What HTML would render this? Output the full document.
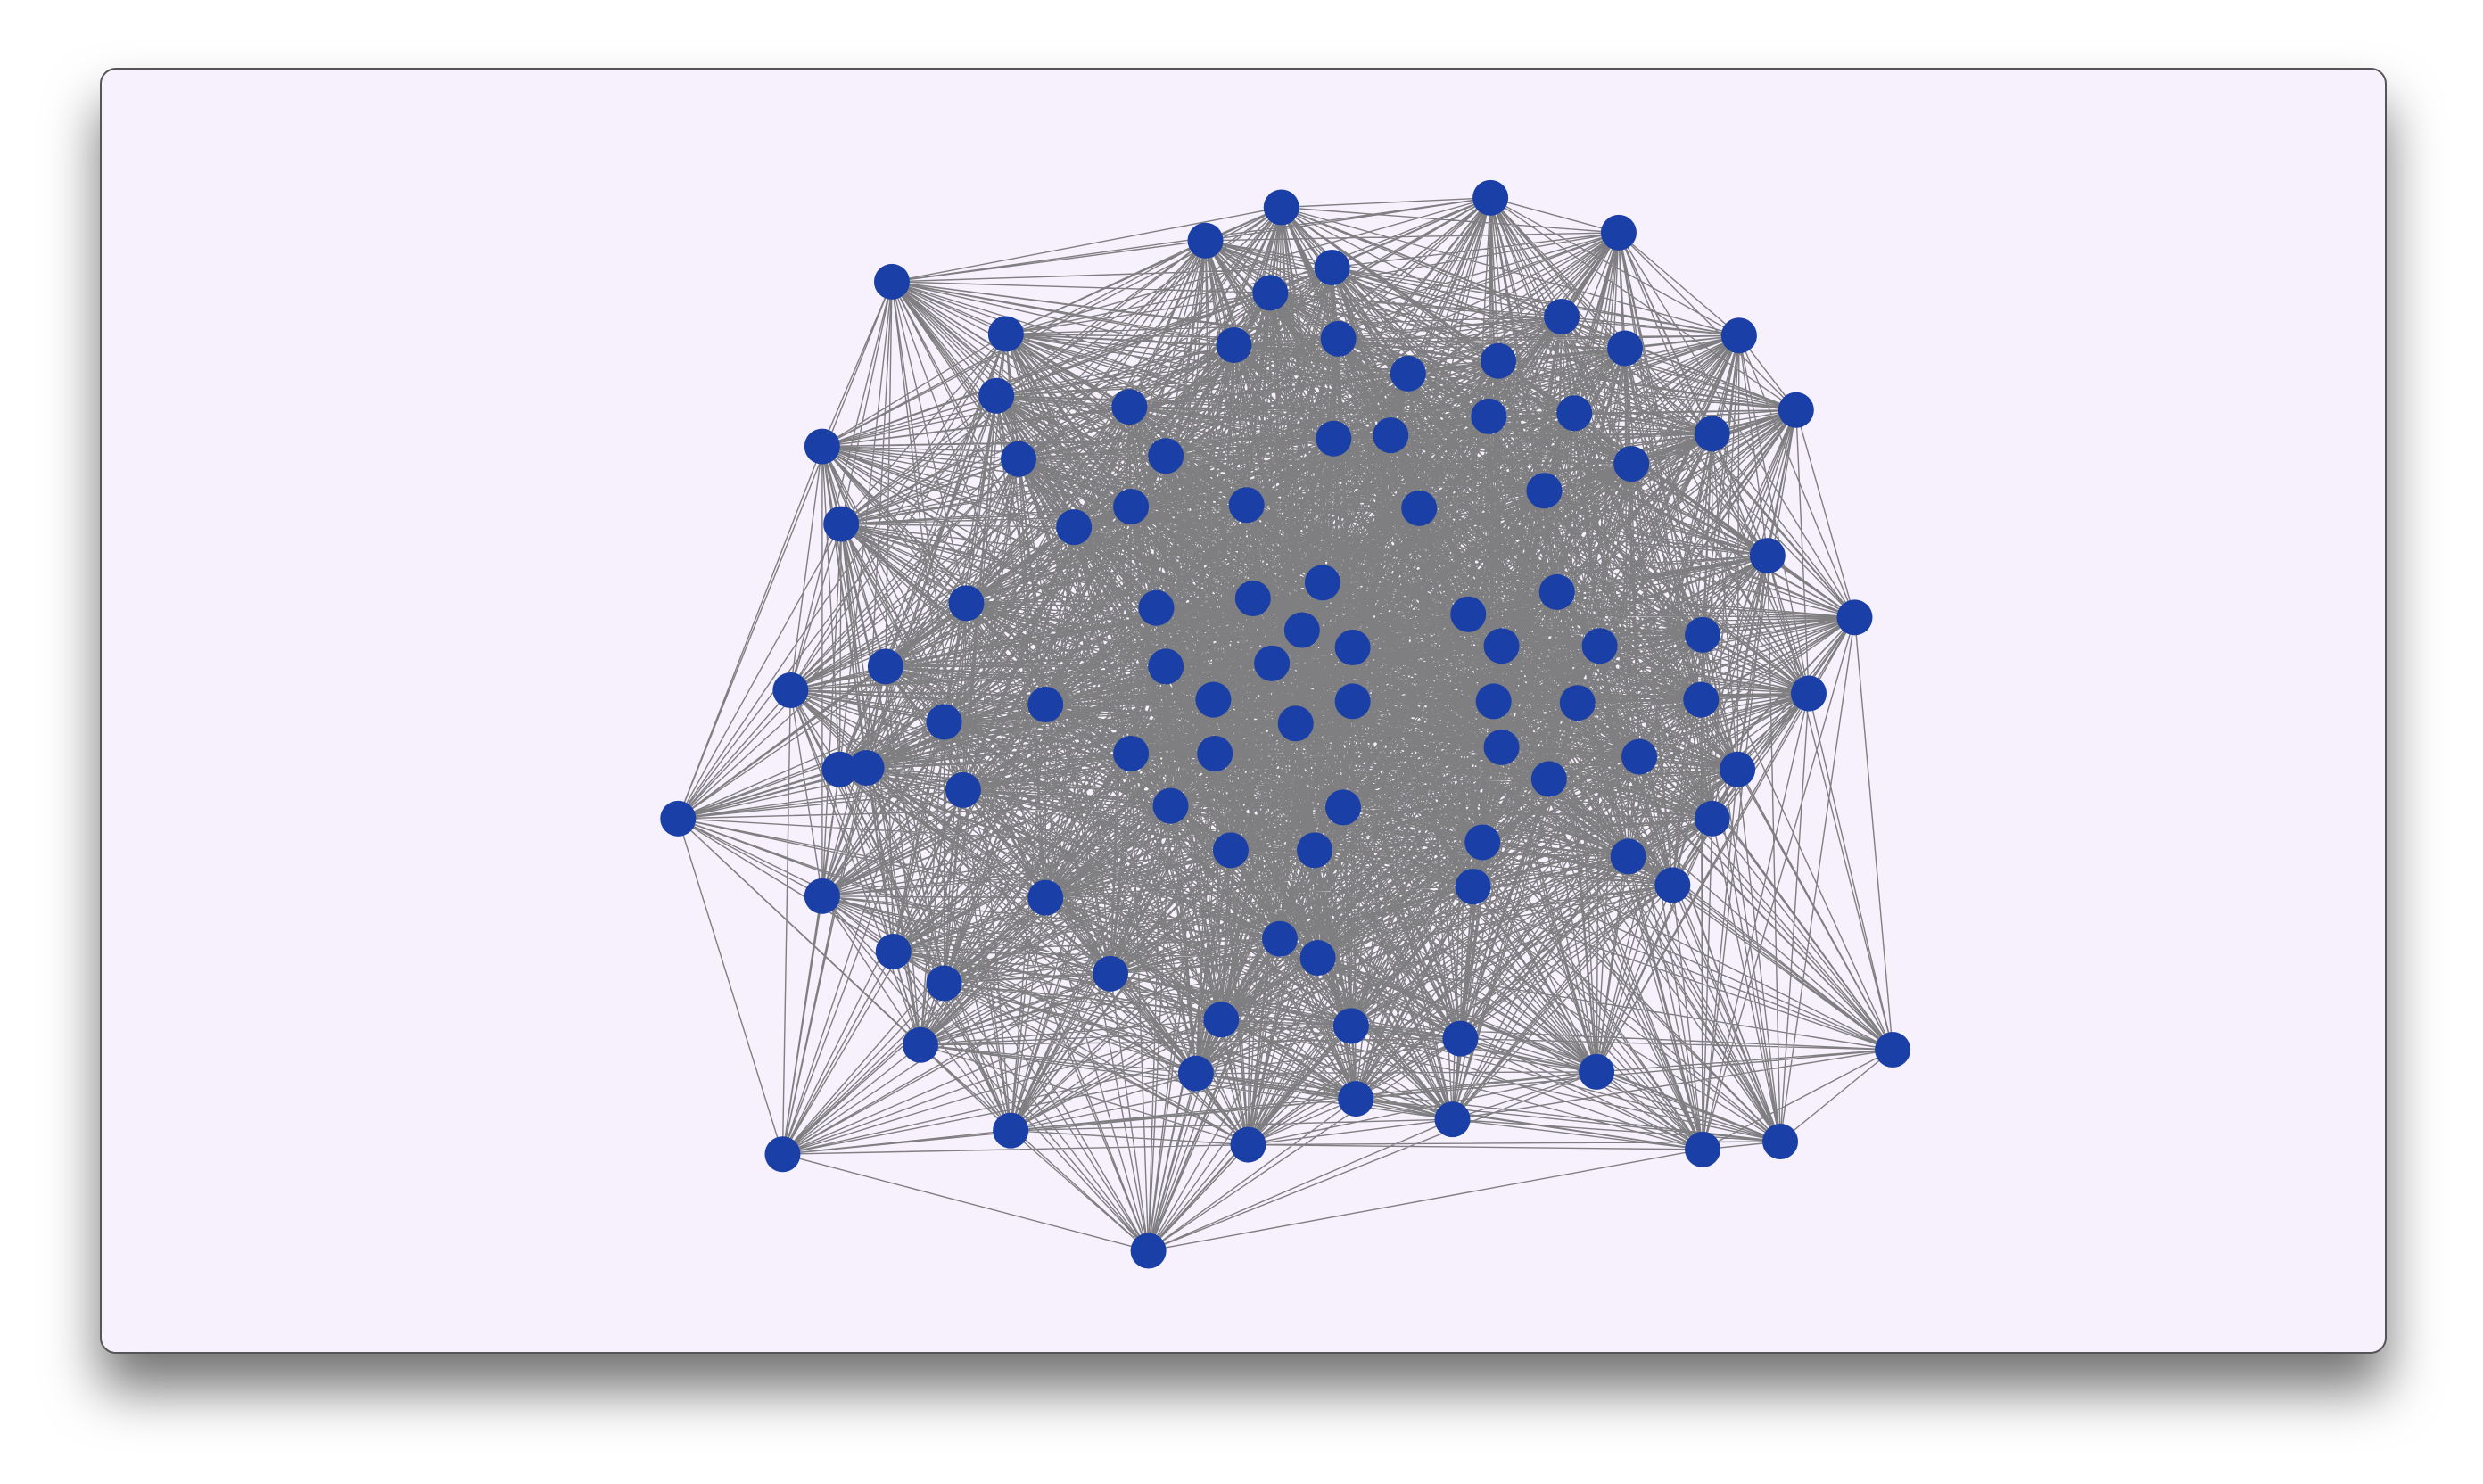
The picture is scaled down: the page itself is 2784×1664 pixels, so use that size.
<!DOCTYPE html>
<html><head><meta charset="utf-8">
<style>
html,body{margin:0;padding:0;background:#fff;width:2784px;height:1664px;overflow:hidden;font-family:"Liberation Sans",sans-serif;}
#card{position:absolute;left:112px;top:76px;width:2560px;height:1438px;background:#f7f0fd;border:2px solid #555;border-radius:18px;box-shadow:0 40px 60px rgba(0,0,0,0.55);overflow:hidden;}
svg{position:absolute;left:0;top:0;}
</style></head>
<body>
<div id="card">
<svg id="chart" width="2560" height="1438">
<g id="edges"></g>
<g id="nodes"></g>
</svg>
</div>
<script>
const nodeX=[562,760,808,940,1021,1097,1133,634,801,840,985,1025,778,844,888,945,628,712,735,841,877,939,993,1080,518,642,1029,530,677,713,786,895,974,1115,1170,609,729,790,834,821,926,982,1074,558,735,802,853,947,1009,498,595,659,765,853,942,995,1073,1141,817,529,546,607,713,766,947,977,1034,1096,427,738,847,1080,518,659,776,829,935,1027,1055,929,563,807,831,595,700,770,852,580,921,1194,754,1007,855,916,637,787,1074,1123,493,724];
const nodeY=[177,151,130,124,146,211,258,210,184,168,199,219,217,213,235,227,249,256,287,276,274,262,260,273,281,289,292,330,332,319,318,320,309,350,389,380,383,377,367,397,387,373,400,420,420,418,408,407,407,435,455,444,441,442,442,443,441,437,456,485,484,498,475,475,471,491,477,485,516,508,509,516,565,566,536,536,531,540,558,559,600,592,604,620,614,643,647,659,655,662,677,676,693,706,713,722,725,720,728,789];
const linkMaxDist=390;
const S=2784/1568, OX=63, OY=43;
function sx(v){return (v-OX)*S;}
function sy(v){return (v-OY)*S;}
const NS="http://www.w3.org/2000/svg";
const eg=document.getElementById('edges'), ng=document.getElementById('nodes');
let d="";
for(let i=0;i<nodeX.length;i++)for(let j=i+1;j<nodeX.length;j++){
  const dx=nodeX[i]-nodeX[j], dy=nodeY[i]-nodeY[j];
  if(Math.hypot(dx,dy)<linkMaxDist){
    d+="M"+sx(nodeX[i]).toFixed(1)+" "+sy(nodeY[i]).toFixed(1)+"L"+sx(nodeX[j]).toFixed(1)+" "+sy(nodeY[j]).toFixed(1);
  }
}
const p=document.createElementNS(NS,'path');
p.setAttribute('d',d);p.setAttribute('stroke','#6a6a6a');p.setAttribute('stroke-width','1.4');p.setAttribute('fill','none');p.setAttribute('stroke-opacity','0.85');


eg.appendChild(p);
for(let i=0;i<nodeX.length;i++){
  const c=document.createElementNS(NS,'circle');
  c.setAttribute('cx',sx(nodeX[i]));c.setAttribute('cy',sy(nodeY[i]));c.setAttribute('r',20);c.setAttribute('fill','#1a3fa6');
  
  
  ng.appendChild(c);
}
</script>
</body></html>
